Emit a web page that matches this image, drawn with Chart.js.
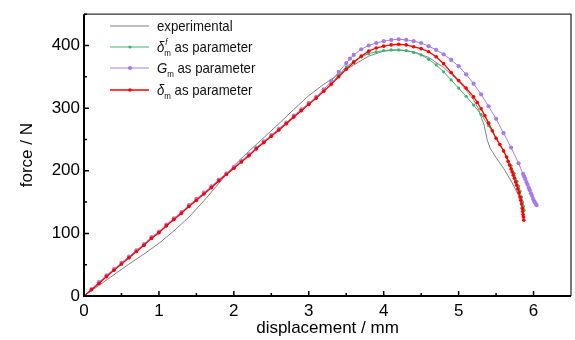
<!DOCTYPE html>
<html>
<head>
<meta charset="utf-8">
<script src="https://cdn.jsdelivr.net/npm/chart.js@4.4.1/dist/chart.umd.min.js"></script>
<style>
  html, body { margin: 0; padding: 0; background: #fff; }
</style>
</head>
<body>
<canvas id="chart" width="575" height="340"></canvas>
<script>
// values: displacement in mm, force in N
const expX = [0,0.2,0.4,0.6,0.8,1.0,1.2,1.4,1.6,1.8,2.0,2.2,2.4,2.6,2.8,3.0,3.2,3.4,3.6,3.8,4.0,4.2,4.4,4.6,4.8,5.0,5.1,5.2,5.26,5.3,5.34,5.38,5.42,5.5,5.6,5.7,5.8,5.84];
const expY = [0,17,34,51,67,84,104,126,152,180,208,231,253,275,298,320,338,354,369,383,391,393,390,381,365,343,329,313,300,286,273,250,236,221,204,184,161,148];

const riseX = [0,0.1,0.2,0.3,0.4,0.5,0.6,0.7,0.8,0.9,1.0,1.1,1.2,1.3,1.4,1.5,1.6,1.7,1.8,1.9,2.0,2.1,2.2,2.3,2.4,2.5,2.6,2.7,2.8,2.9,3.0,3.1,3.2];

const greenX = riseX.concat([3.3,3.4,3.5,3.6,3.7,3.8,3.9,4.0,4.1,4.2,4.3,4.4,4.5,4.6,4.7,4.8,4.9,5.0,5.1,5.2,5.3,5.4,5.5,5.6,5.7,5.74,5.78,5.8,5.82,5.84,5.855,5.865,5.875]);
const greenY = [0,10,20,31,41,51,61,71,81,92,101,112,122,132,143,153,163,173,184,194,204,214,224,235,245,255,265,275,286,296,306,316,327,
  339,353,366,375,382,387,390,392,393,393,392,389,385,378,369,358,345,332,319,305,290,272,252,231,208,196,183,175,167,158,150,143,137];

const purpleX = riseX.concat([3.3,3.4,3.5,3.55,3.6,3.7,3.8,3.9,4.0,4.1,4.2,4.3,4.4,4.5,4.6,4.7,4.8,4.9,5.0,5.1,5.2,5.3,5.4,5.5,5.6,5.7,5.8,5.86,5.875,5.89,5.905,5.92,5.935,5.95,5.965,5.98,5.995,6.01,6.025,6.04]);
const purpleY = [0,11,22,33,43,53,63,73,83,94,103,114,124,134,145,155,165,175,186,196,206,216,226,237,247,257,267,277,288,298,308,318,330,
  343,358,372,379,385,394,400,404,407,409,410,409,407,404,399,393,386,377,367,354,339,322,303,283,260,237,212,195,191,187,182,178,173,169,164,160,155,151,148,145];

const redX = riseX.concat([3.3,3.4,3.5,3.6,3.7,3.8,3.9,4.0,4.1,4.2,4.3,4.4,4.5,4.6,4.7,4.8,4.9,5.0,5.1,5.2,5.25,5.3,5.35,5.4,5.45,5.5,5.55,5.6,5.64,5.66,5.68,5.7,5.715,5.73,5.745,5.76,5.775,5.79,5.805,5.82,5.83,5.84,5.85,5.855,5.86,5.865,5.87]);
const redY = [0,10,20,31,41,51,61,71,81,92,101,112,122,132,143,153,163,173,184,194,204,214,224,235,245,255,265,275,286,296,306,316,327,
  338,350,362,373,383,391,396,399,401,402,401,398,395,390,382,371,357,344,332,318,309,299,288,276,264,252,242,232,222,215,209,203,198,193,188,182,177,171,165,158,153,147,140,135,130,126,121];

const xTicks = [0,1,2,3,4,5,6];
const yTicks = [0,100,200,300,400];

// legend labels, split into pieces so the sub/superscripts can be drawn
const legendLabels = [
  [{t:'experimental'}],
  [{t:'δ', it:true},{t:'m', sub:true},{t:'f', sup:true, it:true},{t:' as parameter'}],
  [{t:'G', it:true},{t:'m', sub:true},{t:' as parameter'}],
  [{t:'δ', it:true},{t:'m', sub:true},{t:' as parameter'}]
];

const FONT = "'Liberation Sans', Arial, sans-serif";

const pts = (xs, ys) => xs.map((x, i) => ({x: x, y: ys[i]}));

const series = [
  {data: pts(expX, expY), color: '#808080', radius: 0, width: 1, order: 3},
  {data: pts(greenX, greenY), color: '#3cb371', radius: 1.6, width: 1, order: 2},
  {data: pts(purpleX, purpleY), color: '#a77be6', radius: 2.1, width: 1, order: 1},
  {data: pts(redX, redY), color: '#ff0000', radius: 1.8, width: 1.3, order: 0}
];

const frame = {
  id: 'frame',
  afterDraw(chart) {
    const ctx = chart.ctx;
    const a = chart.chartArea;
    const xs = chart.scales.x, ys = chart.scales.y;
    ctx.save();
    // thin top / right frame
    ctx.strokeStyle = '#333';
    ctx.lineWidth = 1.3;
    ctx.beginPath();
    ctx.moveTo(a.left, a.top); ctx.lineTo(a.right, a.top); ctx.lineTo(a.right, a.bottom);
    ctx.stroke();
    // heavier left / bottom axes
    ctx.strokeStyle = '#000';
    ctx.lineWidth = 2;
    ctx.beginPath();
    ctx.moveTo(a.left, a.top); ctx.lineTo(a.left, a.bottom); ctx.lineTo(a.right, a.bottom);
    ctx.stroke();
    // inward ticks
    ctx.lineWidth = 1.5;
    ctx.beginPath();
    for (let v = 0; v <= 6.01; v += 0.5) {
      const px = xs.getPixelForValue(v);
      const len = (Math.abs(v - Math.round(v)) < 0.01) ? 5 : 3;
      ctx.moveTo(px, a.bottom); ctx.lineTo(px, a.bottom - len);
    }
    for (let v = 0; v <= 450; v += 50) {
      const py = ys.getPixelForValue(v);
      const len = (v % 100 === 0) ? 5 : 3;
      ctx.moveTo(a.left, py); ctx.lineTo(a.left + len, py);
    }
    ctx.stroke();

    // legend
    const rowY = [26, 47, 68, 90];
    series.forEach((s, i) => {
      const y = rowY[i];
      ctx.strokeStyle = s.color;
      ctx.lineWidth = s.width;
      ctx.beginPath(); ctx.moveTo(110, y); ctx.lineTo(149, y); ctx.stroke();
      if (s.radius > 0) {
        ctx.fillStyle = s.color;
        ctx.beginPath(); ctx.arc(130, y, s.radius, 0, Math.PI * 2); ctx.fill();
      }
      drawRich(ctx, 157, y + 5, legendLabels[i]);
    });
    ctx.restore();
  }
};

function drawRich(ctx, x, y, parts) {
  ctx.save();
  ctx.translate(x, y);
  ctx.scale(0.88, 1);
  ctx.fillStyle = '#111';
  ctx.textBaseline = 'alphabetic';
  let cx = 0, subStart = 0;
  parts.forEach(p => {
    const size = (p.sub || p.sup) ? 9 : 15;
    ctx.font = (p.it ? 'italic ' : '') + size + 'px ' + FONT;
    const w = ctx.measureText(p.t).width;
    if (p.sub) {
      subStart = cx;
      ctx.fillText(p.t, cx, 4);
      cx += w;
    } else if (p.sup) {
      ctx.fillText(p.t, subStart + 1, -7);
      cx = Math.max(cx, subStart + 1 + w);
    } else {
      ctx.fillText(p.t, cx, 0);
      cx += w;
    }
  });
  ctx.restore();
}

new Chart(document.getElementById('chart'), {
  type: 'line',
  data: {
    datasets: series.map(s => ({
      data: s.data,
      borderColor: s.color,
      backgroundColor: s.color,
      borderWidth: s.width,
      pointRadius: s.radius,
      pointBorderWidth: 0,
      pointBackgroundColor: s.color,
      tension: 0,
      fill: false,
      order: s.order
    }))
  },
  options: {
    responsive: false,
    animation: false,
    layout: {padding: {top: 13, right: 1, left: 0, bottom: 0}},
    plugins: {legend: {display: false}, tooltip: {enabled: false}},
    scales: {
      x: {
        type: 'linear', min: 0, max: 6.5,
        afterBuildTicks: sc => { sc.ticks = xTicks.map(v => ({value: v})); },
        afterFit: sc => { sc.height = 44; },
        grid: {display: false, drawTicks: false, tickLength: 0},
        border: {display: false},
        ticks: {color: '#000', padding: 5, font: {family: FONT, size: 17}, maxRotation: 0},
        title: {display: true, text: 'displacement / mm', color: '#000',
                font: {family: FONT, size: 17}, padding: {top: 0, bottom: 1}}
      },
      y: {
        type: 'linear', min: 0, max: 450,
        afterBuildTicks: sc => { sc.ticks = yTicks.map(v => ({value: v})); },
        afterFit: sc => { sc.width = 84; },
        grid: {display: false, drawTicks: false, tickLength: 0},
        border: {display: false},
        ticks: {color: '#000', padding: 4, font: {family: FONT, size: 17}},
        title: {display: true, text: 'force / N', color: '#000',
                font: {family: FONT, size: 17}, padding: {top: 17, bottom: 0}}
      }
    }
  },
  plugins: [frame]
});
</script>
</body>
</html>
